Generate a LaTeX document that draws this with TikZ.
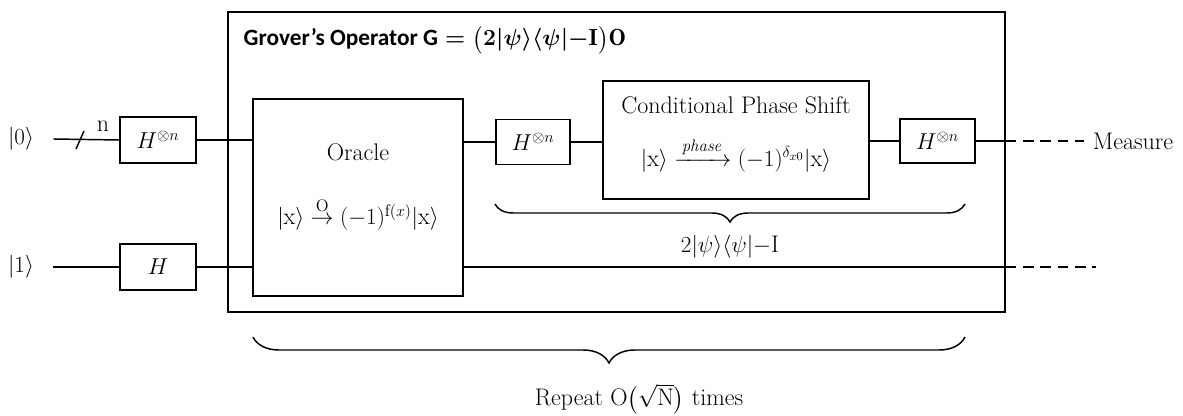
\documentclass[tikz,border=0pt]{standalone}
\usepackage{amsmath}
\usepackage{fontspec}
\newfontfamily\carlito{Carlito}
\usetikzlibrary{decorations.pathreplacing}
\begin{document}
\begin{tikzpicture}[x=0.75pt,y=-0.75pt, line width=1.1pt,
  box/.style={draw, line width=1.1pt, inner sep=0pt},
  txt/.style={font=\fontsize{18}{21}\selectfont, inner sep=0pt},
  wire/.style={line width=1.1pt},
  dwire/.style={line width=1.1pt, dash pattern=on 8pt off 5pt},
  brc/.style={decorate, line width=1.1pt, decoration={brace, mirror}}]
\useasboundingbox (0,0) rectangle (1183,416);

% outer Grover box
\node[box, minimum width=582.75pt, minimum height=225pt] (grover) at (616.5,162) {};
\node[txt, font=\fontsize{17.5}{20}\selectfont, anchor=west] (title) at (243,40)
  {{\carlito\bfseries Grover’s Operator G} {\boldmath$=\big(2|\psi\rangle\langle\psi|{-}\mathrm{I}\big)\mathrm{O}$}};

% inputs
\node[txt] (in0) at (21,139) {$|0\rangle$};
\node[txt] (in1) at (21,267) {$|1\rangle$};

% gates
\node[box, txt, minimum width=57pt, minimum height=34.5pt] (hn1) at (158,140) {$H^{\otimes n}$};
\node[box, txt, minimum width=57pt, minimum height=34.5pt] (h1) at (158,267) {$H$};
\node[box, minimum width=157.5pt, minimum height=147.75pt] (oracle) at (358,197.5) {};
\node[txt] (orlab) at (358,152) {Oracle};
\node[txt] (orfor) at (358,214) {$|\mathrm{x}\rangle \overset{\mathrm{O}}{\rightarrow} (-1)^{\mathrm{f}(x)}|\mathrm{x}\rangle$};
\node[box, txt, minimum width=55.5pt, minimum height=33.75pt] (hn2) at (533,142) {$H^{\otimes n}$};
\node[box, minimum width=199.5pt, minimum height=88.5pt] (cps) at (736,140) {};
\node[txt] (cpslab) at (736,105) {Conditional Phase Shift};
\node[txt] (cpsfor) at (736,155) {$|\mathrm{x}\rangle \xrightarrow{\,\mathit{phase}\,} (-1)^{\delta_{x0}}|\mathrm{x}\rangle$};
\node[box, txt, minimum width=56.25pt, minimum height=33pt] (hn3) at (937.5,141) {$H^{\otimes n}$};
\node[txt] (meas) at (1133,141) {Measure};
\coordinate (end1) at (1096,267);

% top wire
\draw[wire] ([xshift=14pt]in0.east) -- (hn1.west);
\draw[wire] (76,149) -- (84,131);
\node[txt] (nlab) at (103,126) {n};
\draw[wire] (hn1.east) -- (oracle.west |- hn1.east);
\draw[wire] (oracle.east |- hn2.west) -- (hn2.west);
\draw[wire] (hn2.east) -- (cps.west |- hn2.east);
\draw[wire] (cps.east |- hn3.west) -- (hn3.west);
\draw[wire] (hn3.east) -- (grover.east |- hn3.east);
\draw[dwire] (grover.east |- hn3.east) -- ([xshift=-6pt]meas.west);

% bottom wire
\draw[wire] ([xshift=14pt]in1.east |- h1.west) -- (h1.west);
\draw[wire] (h1.east) -- (oracle.west |- h1.east);
\draw[wire] (oracle.east |- h1.east) -- (grover.east |- h1.east);
\draw[dwire] (grover.east |- h1.east) -- (end1);

% braces
\coordinate (b1l) at (495,204);
\coordinate (b1r) at (965,204);
\draw[brc, decoration={amplitude=13.5pt}] (b1l) -- (b1r);
\node[txt] (b1lab) at (730,247) {$2|\psi\rangle\langle\psi|{-}\mathrm{I}$};
\coordinate (b2l) at (253,337);
\coordinate (b2r) at (965,337);
\draw[brc, decoration={amplitude=19.5pt}] (b2l) -- (b2r);
\node[txt] (b2lab) at (639,399) {Repeat $\mathrm{O}\big(\sqrt{\mathrm{N}}\big)$ times};
\end{tikzpicture}
\end{document}
